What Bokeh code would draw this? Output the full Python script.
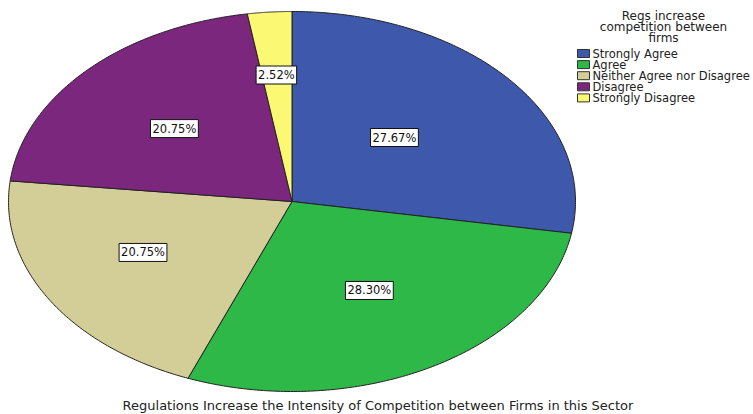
import numpy as np
from bokeh.plotting import figure
from bokeh.models import Range1d, Label
from bokeh.core.properties import value
from bokeh.embed import file_html
from bokeh.resources import INLINE

categories = ["Strongly Agree", "Agree", "Neither Agree nor Disagree", "Disagree", "Strongly Disagree"]
percents = [27.67, 28.30, 20.75, 20.75, 2.52]
legend_title = ["Regs increase", "competition between", "firms"]
chart_title = "Regulations Increase the Intensity of Competition between Firms in this Sector"

colors = ["#3E58AC", "#2EB848", "#D3CE97", "#7B277E", "#FBF873"]
label_r = [0.494, 0.542, 0.590, 0.565, 0.668]
label_shift = [2.8, 0.8, -4.1, 0.8, 0.2]  # degrees adjustment of label angle

FONT = "DejaVu Sans"
W, H = 753, 414
CX, CY = 291.5, 201.0   # pie centre in pixels (from top-left)
RX, RY = 283.5, 190.0

def dx(px):
    return (px - CX) / RX

def dy(py):
    return (CY - py) / RY

p = figure(width=W, height=H, output_backend="svg", toolbar_location=None,
           x_range=Range1d(dx(0), dx(W)), y_range=Range1d(dy(H), dy(0)),
           min_border=0)
p.axis.visible = False
p.grid.visible = False
p.outline_line_color = None

total = sum(percents)
xs, ys, lx, ly = [], [], [], []
start = np.pi / 2
for i, v in enumerate(percents):
    sweep = v / total * 2 * np.pi
    t = np.linspace(start, start - sweep, 150)
    xs.append(np.concatenate([[0], np.cos(t), [0]]))
    ys.append(np.concatenate([[0], np.sin(t), [0]]))
    mid = start - sweep / 2 + np.radians(label_shift[i])
    lx.append(label_r[i] * np.cos(mid))
    ly.append(label_r[i] * np.sin(mid))
    start -= sweep

p.patches(xs, ys, fill_color=colors, line_color="#222222", line_width=1)

p.text(x=lx, y=ly, text=[f"{v:.2f}%" for v in percents],
       text_font=value(FONT), text_font_size="11.5px",
       text_align="center", text_baseline="middle", text_color="#111111",
       background_fill_color="white", border_line_color="#111111",
       border_line_width=1, padding=2)

# legend title
for k, line in enumerate(legend_title):
    p.add_layout(Label(x=663, y=H - (15.5 + k * 11), x_units="screen", y_units="screen",
                       text=line, text_font=FONT, text_font_size="12px",
                       text_align="center", text_baseline="middle", text_color="#222222"))

# legend items
for k, (c, name) in enumerate(zip(colors, categories)):
    yc = 53 + k * 11.1
    p.rect(x=[dx(583)], y=[dy(yc)], width=12 / RX, height=8 / RY,
           fill_color=c, line_color="#333333", line_width=1)
    p.add_layout(Label(x=592, y=H - yc, x_units="screen", y_units="screen",
                       text=name, text_font=FONT, text_font_size="11.5px",
                       text_align="left", text_baseline="middle", text_color="#222222"))

p.add_layout(Label(x=377.5, y=H - 405, x_units="screen", y_units="screen",
                   text=chart_title, text_font=FONT, text_font_size="13px",
                   text_align="center", text_baseline="middle", text_color="#222222"))

open("out.html", "w").write(file_html(p, INLINE))
